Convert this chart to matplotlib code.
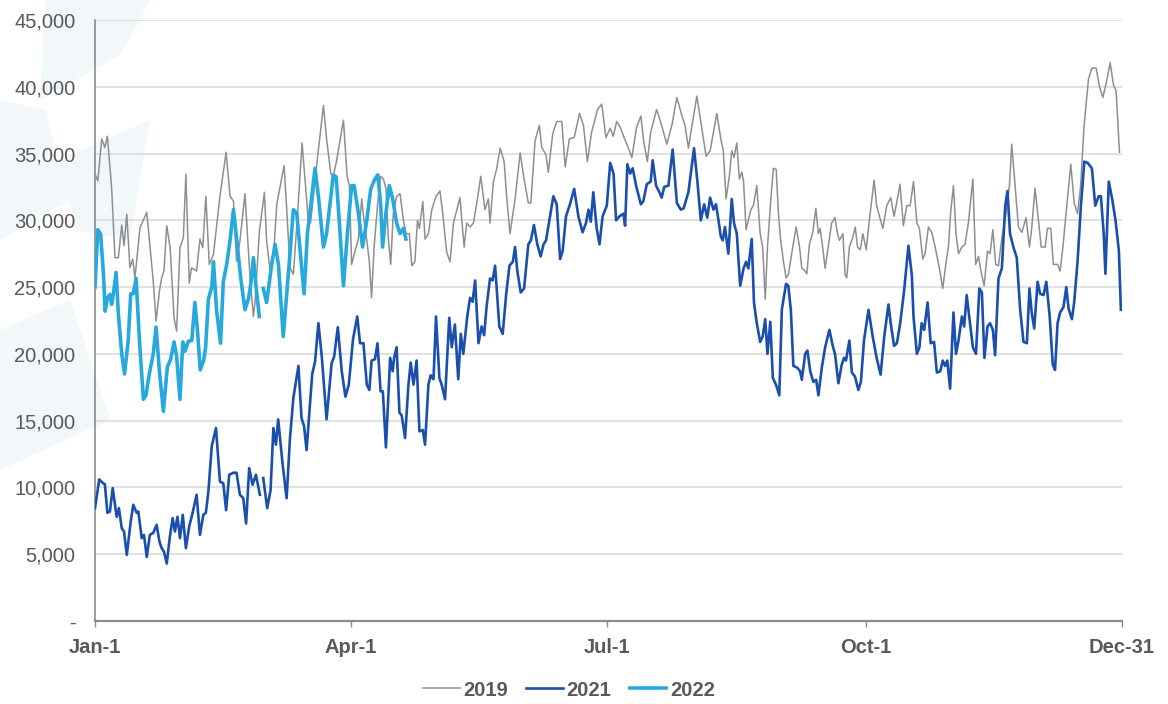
import numpy as np
import matplotlib
matplotlib.use('Agg')
import matplotlib.pyplot as plt
from matplotlib.patches import Polygon
from matplotlib.ticker import FuncFormatter

plt.rcParams['font.family'] = ['Liberation Sans', 'DejaVu Sans']

# x = day of year (0 = Jan-1, 365 = Dec-31), values in thousands
days_2019 = [0.0, 1.0, 2.4, 3.5, 4.4, 5.9, 7.1, 8.3, 9.5, 10.3, 11.3, 12.4, 13.4, 14.2, 16.0, 18.4,
             20.7, 21.7, 22.9, 23.7, 24.5, 25.5, 26.7, 28.1, 29.0, 30.2, 31.4, 32.3, 33.5, 34.3, 36.1,
             37.3, 38.3, 39.4, 40.6, 42.1, 44.4, 46.6, 48.0, 49.2, 50.3, 51.5, 53.3, 55.1, 56.3, 56.9,
             58.4, 60.2, 61.0, 62.4, 63.4, 64.6, 67.2, 68.1, 69.3, 70.5, 71.9, 73.6, 75.8, 76.6, 79.4,
             81.2, 82.3, 83.8, 84.7, 85.9, 88.3, 89.6, 90.4, 91.2, 92.4, 93.6, 94.8, 95.6, 96.6, 97.5,
             98.3, 99.2, 100.4, 101.5, 102.5, 103.4, 104.3, 105.1, 106.0, 107.2, 108.4, 109.6, 110.6,
             111.7, 112.6, 113.7, 114.6, 115.3, 116.5, 117.3, 118.5, 119.7, 121.2, 122.6, 123.6, 125.0,
             126.2, 127.4, 128.6, 129.7, 131.2, 132.1, 133.3, 134.5, 135.7, 137.1, 138.6, 139.8, 140.4,
             141.6, 142.8, 144.0, 145.4, 146.3, 147.5, 149.3, 151.1, 152.5, 154.0, 154.9, 156.4, 157.9,
             158.8, 160.3, 161.1, 162.7, 164.1, 165.9, 167.1, 168.6, 170.3, 172.2, 173.6, 175.0, 176.5,
             178.6, 180.1, 181.6, 183.1, 184.2, 185.4, 186.6, 188.4, 189.6, 190.8, 192.5, 194.0, 195.1,
             196.3, 197.5, 199.6, 201.4, 203.2, 205.0, 206.8, 208.5, 209.7, 210.9, 212.1, 213.9, 215.3,
             217.2, 218.6, 221.0, 222.5, 223.3, 224.3, 225.5, 226.3, 227.1, 228.1, 229.0, 229.9, 230.5,
             231.4, 232.2, 233.1, 234.0, 235.2, 236.4, 237.3, 238.2, 239.0, 240.2, 241.1, 242.1, 242.9,
             243.7, 244.7, 245.6, 246.4, 247.6, 249.2, 250.4, 251.2, 252.0, 253.0, 253.9, 255.1, 256.2,
             257.1, 257.7, 258.3, 259.5, 260.7, 261.8, 263.0, 263.9, 264.6, 265.8, 266.6, 267.2, 268.1,
             269.3, 270.2, 271.0, 272.0, 272.9, 274.1, 275.2, 276.1, 276.9, 277.8, 278.8, 280.0, 281.4,
             282.8, 284.0, 284.9, 286.1, 287.3, 288.5, 289.7, 290.9, 292.1, 293.0, 294.2, 295.0, 296.2,
             297.4, 298.6, 300.1, 301.3, 302.5, 303.3, 304.1, 305.1, 306.0, 306.9, 308.1, 309.2, 310.4,
             312.0, 313.0, 314.0, 314.8, 316.0, 317.2, 318.1, 319.1, 320.1, 321.1, 322.3, 323.8, 325.0,
             325.8, 327.0, 328.2, 329.4, 330.9, 332.1, 332.9, 334.1, 335.3, 336.3, 337.7, 338.5, 339.7,
             340.6, 342.1, 343.0, 344.0, 345.1, 346.8, 348.0, 349.2, 350.3, 351.5, 353.1, 354.3, 355.8,
             357.0, 358.2, 359.4, 360.8, 362.0, 362.9, 364.1]
vals_2019 = [33.45, 32.95, 36.1, 35.45, 36.3, 32.45, 27.2, 27.2, 29.65, 28.1, 30.45, 26.45, 27.1, 25.7,
             29.45, 30.6, 25.45, 22.45, 24.7, 25.7, 26.2, 29.6, 27.95, 22.7, 21.7, 27.95, 28.7, 33.45,
             25.3, 26.45, 26.2, 28.6, 27.95, 31.8, 26.7, 27.45, 31.8, 35.1, 31.8, 31.45, 26.95, 28.45,
             32.0, 25.7, 22.8, 23.95, 29.1, 32.1, 28.45, 25.95, 27.2, 31.2, 34.1, 30.95, 26.45, 25.95,
             30.2, 35.8, 30.0, 29.8, 35.3, 38.6, 36.1, 33.5, 33.3, 34.5, 37.5, 33.3, 32.6, 26.7, 27.7,
             28.6, 31.6, 30.0, 28.5, 26.9, 24.2, 28.0, 31.1, 33.3, 33.1, 32.4, 28.5, 26.7, 30.5, 31.8,
             32.0, 30.0, 29.0, 29.0, 26.6, 26.9, 30.0, 29.4, 31.4, 28.6, 29.0, 30.8, 31.8, 32.2, 30.5,
             27.6, 26.9, 29.8, 30.8, 31.7, 28.0, 29.8, 29.5, 29.8, 31.3, 33.3, 30.8, 31.6, 29.8, 32.9,
             33.9, 35.4, 34.4, 31.8, 29.0, 31.6, 35.05, 33.1, 31.3, 31.3, 35.95, 37.1, 35.45, 34.9,
             33.6, 36.5, 37.4, 37.4, 34.0, 36.1, 36.2, 38.0, 37.1, 34.4, 36.6, 38.3, 38.7, 36.2, 36.9,
             36.3, 37.4, 37.0, 36.0, 35.4, 34.7, 37.0, 37.8, 35.8, 34.4, 36.6, 38.3, 37.1, 35.7, 37.1,
             39.2, 37.9, 37.1, 35.4, 37.0, 39.3, 37.4, 34.8, 35.2, 38.0, 36.0, 35.2, 31.6, 33.4, 35.2,
             34.7, 35.8, 33.1, 33.6, 32.9, 29.3, 30.0, 30.8, 31.1, 32.6, 29.0, 28.0, 24.1, 28.0, 31.6,
             33.9, 33.8, 30.5, 28.5, 26.9, 25.7, 25.9, 27.5, 29.5, 28.0, 26.4, 26.3, 26.0, 28.2, 29.1,
             30.9, 29.0, 29.4, 28.5, 26.4, 28.2, 29.8, 30.2, 29.0, 28.5, 29.0, 25.9, 25.7, 28.0, 28.7,
             29.5, 28.0, 27.8, 29.0, 27.8, 30.0, 31.6, 33.0, 31.1, 30.3, 29.4, 31.1, 31.7, 30.3, 31.3,
             32.7, 29.6, 31.1, 31.1, 32.9, 29.8, 29.4, 27.1, 27.5, 29.5, 29.1, 28.0, 26.4, 24.9, 26.9,
             28.0, 30.6, 32.6, 29.0, 27.5, 28.0, 28.2, 29.8, 33.1, 26.7, 27.3, 26.3, 25.1, 27.7, 27.5,
             29.3, 26.7, 26.6, 28.7, 30.5, 32.6, 35.7, 32.6, 29.5, 29.1, 30.2, 28.0, 29.4, 32.4, 30.0,
             28.0, 28.0, 29.4, 29.4, 26.7, 26.7, 26.2, 28.0, 30.5, 34.2, 31.3, 30.5, 32.6, 37.0, 40.6,
             41.4, 41.4, 40.0, 39.2, 40.3, 41.8, 40.1, 39.7, 35.1]

days_2021 = [0.0, 1.5, 3.0, 3.5, 4.4, 5.3, 6.3, 7.1, 7.7, 8.5, 9.5, 10.3, 11.3, 12.7, 13.6, 14.8, 15.4,
             16.6, 17.4, 18.4, 19.5, 20.7, 21.9, 22.9, 23.7, 24.5, 25.5, 26.6, 27.6, 28.4, 29.3, 30.2,
             31.2, 32.3, 33.5, 34.7, 36.1, 37.3, 38.5, 39.4, 40.3, 41.5, 43.0, 44.4, 45.6, 46.6, 47.7,
             49.2, 50.3, 51.5, 52.7, 53.7, 54.8, 56.0, 57.2, 58.6, 59.2, 59.8, 61.2, 62.4, 63.4, 64.3,
             65.1, 66.7, 68.1, 69.3, 70.5, 72.3, 73.4, 74.3, 75.2, 77.2, 78.2, 79.4, 80.6, 82.3, 84.1,
             85.0, 86.3, 87.7, 89.0, 90.2, 91.7, 93.2, 94.2, 95.4, 96.6, 97.5, 98.3, 99.5, 100.4, 101.5,
             102.3, 103.4, 104.9, 105.8, 106.3, 107.2, 108.2, 109.0, 110.2, 111.4, 112.2, 113.2, 114.3,
             115.3, 116.5, 117.3, 118.5, 119.3, 120.3, 121.2, 122.4, 123.2, 124.4, 125.9, 126.8, 127.9,
             129.1, 130.0, 130.9, 132.3, 133.3, 134.2, 135.1, 136.3, 137.4, 138.3, 139.2, 140.4, 141.3,
             142.2, 143.7, 144.9, 146.1, 147.3, 148.5, 149.3, 150.1, 151.3, 152.5, 154.0, 154.9, 156.0,
             157.2, 158.4, 159.4, 160.3, 161.5, 162.9, 164.1, 165.3, 166.2, 167.4, 168.8, 170.3, 171.8,
             173.3, 174.5, 175.4, 176.2, 177.1, 178.3, 179.3, 180.4, 181.9, 183.1, 184.3, 185.2, 186.4,
             187.8, 188.4, 189.2, 190.2, 191.1, 192.3, 194.0, 194.9, 196.1, 197.5, 198.2, 199.4, 200.6,
             201.4, 202.3, 203.8, 205.3, 206.8, 208.2, 209.2, 210.9, 212.9, 214.1, 215.3, 216.5, 217.6,
             218.6, 219.8, 220.7, 221.6, 222.4, 223.1, 223.9, 225.1, 226.3, 227.1, 228.1, 229.3, 230.5,
             231.4, 232.2, 233.4, 234.2, 235.2, 236.4, 237.3, 238.2, 239.0, 240.0, 240.9, 242.1, 243.2,
             244.1, 245.6, 246.4, 247.3, 248.2, 249.6, 250.6, 251.2, 252.4, 253.2, 254.2, 255.3, 256.3,
             257.1, 258.3, 259.5, 261.0, 262.2, 263.0, 264.2, 265.4, 266.2, 266.9, 268.1, 269.0, 270.1,
             271.3, 272.2, 273.3, 274.9, 276.4, 277.8, 279.2, 280.5, 282.0, 282.8, 284.0, 285.0, 286.1,
             287.5, 289.1, 290.3, 290.9, 292.1, 293.0, 293.8, 294.7, 295.9, 297.0, 298.2, 299.2, 300.4,
             301.3, 302.1, 302.9, 303.9, 305.1, 306.0, 306.9, 308.1, 308.9, 309.8, 311.0, 312.0, 313.1,
             314.3, 315.2, 316.1, 317.2, 318.1, 319.1, 319.9, 321.1, 322.3, 323.5, 324.3, 325.2, 326.4,
             327.6, 328.8, 330.0, 331.2, 332.1, 332.9, 333.8, 335.0, 335.9, 337.1, 338.1, 339.3, 340.4,
             341.2, 342.1, 343.0, 344.2, 345.2, 346.0, 347.2, 348.0, 349.2, 350.4, 351.6, 352.8, 354.3,
             355.5, 356.7, 357.5, 358.5, 359.1, 360.3, 361.5, 362.7, 363.9, 364.6]
vals_2021 = [8.45, 10.6, 10.3, 10.25, 8.1, 8.2, 9.95, 8.7, 7.8, 8.45, 6.95, 6.7, 4.95, 7.45, 8.7, 8.1,
             8.2, 6.2, 6.45, 4.8, 6.45, 6.6, 7.2, 5.95, 5.45, 5.2, 4.3, 6.3, 7.7, 6.7, 7.8, 6.2, 7.95,
             5.45, 7.1, 8.1, 9.45, 6.45, 7.95, 8.1, 9.7, 13.1, 14.45, 10.45, 10.3, 8.3, 10.95, 11.1,
             11.1, 9.45, 9.2, 7.3, 11.45, 10.2, 10.95, 9.45, np.nan, 10.7, 8.45, 9.8, 14.45, 13.2, 15.1,
             11.7, 9.2, 13.7, 16.7, 19.1, 15.2, 14.6, 12.8, 18.5, 19.4, 22.3, 19.8, 15.1, 19.3, 19.8,
             22.0, 18.7, 16.8, 17.7, 21.1, 22.8, 20.8, 20.8, 17.7, 17.3, 19.5, 19.6, 20.8, 17.2, 17.2,
             13.0, 19.7, 18.7, 19.7, 20.5, 15.6, 15.4, 13.7, 17.7, 19.35, 17.7, 19.5, 14.2, 14.3, 13.2,
             17.7, 18.4, 18.1, 22.8, 18.2, 17.7, 16.6, 22.7, 20.5, 22.2, 18.1, 21.5, 20.0, 22.8, 24.2,
             23.9, 25.5, 20.8, 22.05, 21.4, 23.6, 25.65, 25.5, 26.6, 22.05, 21.5, 24.4, 26.6, 26.9,
             28.0, 26.2, 24.6, 24.9, 28.2, 28.5, 29.65, 28.2, 27.3, 28.2, 28.5, 30.0, 31.8, 31.2, 27.1,
             27.7, 30.3, 31.2, 32.35, 30.3, 29.1, 29.8, 30.8, 29.9, 32.1, 29.4, 28.2, 30.3, 31.1, 34.3,
             33.5, 30.0, 30.3, 30.5, 29.6, 34.2, 33.5, 33.9, 32.6, 31.2, 31.45, 32.7, 32.9, 34.5, 32.6,
             32.1, 31.7, 32.5, 32.6, 35.3, 31.3, 30.8, 30.9, 32.1, 35.4, 32.9, 30.0, 31.2, 30.2, 31.7,
             30.8, 31.2, 30.0, 28.8, 28.5, 29.5, 27.5, 31.6, 29.8, 29.0, 25.1, 26.4, 26.9, 26.4, 28.6,
             23.85, 22.3, 20.9, 21.3, 22.6, 20.0, 22.4, 18.2, 17.65, 16.9, 23.3, 25.25, 25.1, 23.3,
             19.1, 18.96, 18.7, 18.06, 20.0, 20.25, 18.7, 17.9, 18.06, 16.9, 18.96, 20.5, 21.8, 20.6,
             20.0, 17.8, 19.2, 19.7, 19.5, 21.0, 18.6, 18.3, 17.3, 17.9, 21.0, 23.3, 21.3, 19.7, 18.45,
             21.3, 23.7, 22.3, 20.6, 20.8, 22.2, 24.6, 28.1, 25.9, 22.8, 20.0, 20.5, 22.3, 21.8, 23.85,
             20.8, 20.9, 18.6, 18.7, 19.5, 19.1, 19.5, 17.4, 23.1, 20.0, 21.0, 22.8, 22.05, 24.4, 22.3,
             20.5, 20.0, 24.9, 24.6, 19.7, 22.05, 22.3, 21.8, 19.9, 25.65, 26.4, 31.1, 32.2, 29.0,
             28.0, 27.2, 23.3, 20.9, 20.8, 24.9, 23.1, 21.9, 25.4, 24.5, 24.4, 25.4, 22.8, 19.2, 18.8,
             22.3, 23.1, 23.5, 25.0, 23.4, 22.6, 23.85, 26.9, 31.1, 34.4, 34.3, 33.9, 31.1, 31.8, 31.8,
             29.0, 26.0, 32.9, 31.6, 30.0, 27.7, 23.3]

days_2022 = [0.0, 1.0, 2.0, 3.0, 3.6, 4.4, 5.3, 5.9, 6.5, 7.5, 8.3, 9.5, 10.5, 11.8, 12.7, 13.6, 14.6,
             15.8, 17.2, 18.1, 19.3, 20.7, 21.7, 22.9, 24.3, 25.7, 26.9, 28.1, 29.0, 30.2, 31.2, 32.0,
             33.2, 34.4, 35.5, 36.4, 37.4, 38.6, 39.3, 40.3, 41.5, 42.1, 43.2, 44.6, 45.6, 46.8, 48.0,
             49.2, 50.4, 51.8, 53.3, 54.5, 55.3, 56.3, 57.2, 58.4, 59.1, 59.8, 61.0, 62.8, 64.0, 65.2,
             66.9, 68.1, 69.3, 70.5, 71.7, 73.0, 74.3, 75.5, 78.2, 79.4, 81.2, 82.3, 84.7, 85.7, 86.8,
             88.3, 89.7, 91.2, 92.1, 93.6, 95.1, 96.6, 98.0, 99.5, 100.5, 101.5, 102.2, 103.4, 104.6,
             105.8, 107.2, 108.4, 109.6, 110.5]
vals_2022 = [25.0, 29.3, 28.95, 26.0, 23.2, 24.2, 24.45, 23.7, 24.45, 26.1, 23.0, 20.0, 18.5, 21.0,
             24.5, 24.5, 25.65, 21.0, 16.6, 16.9, 18.5, 20.0, 22.0, 18.7, 15.7, 19.0, 19.6, 20.9, 19.8,
             16.6, 20.9, 20.2, 20.95, 21.0, 23.85, 21.8, 18.8, 19.5, 20.45, 24.1, 25.0, 26.9, 23.3,
             20.8, 25.4, 26.7, 28.5, 30.8, 28.5, 25.65, 23.3, 24.1, 25.1, 27.2, 25.1, 22.8, np.nan,
             24.9, 23.85, 26.7, 28.2, 26.7, 21.3, 24.4, 27.5, 30.8, 30.55, 27.5, 24.5, 29.0, 33.9,
             31.8, 28.0, 29.0, 33.4, 33.25, 30.0, 25.1, 29.0, 32.6, 32.6, 30.55, 28.0, 30.0, 32.35,
             33.1, 33.4, 31.3, 28.0, 30.55, 32.6, 31.6, 29.8, 29.0, 29.4, 28.6]

tick_days = [0, 91, 182, 274, 365]
tick_labels = ['Jan-1', 'Apr-1', 'Jul-1', 'Oct-1', 'Dec-31']

W, H = 1168, 704
fig = plt.figure(figsize=(W / 100, H / 100), dpi=100)

# faint watermark shapes in the upper-left background
for pts in [[(45, 0), (150, 0), (120, 55), (40, 100)],
            [(0, 100), (45, 110), (70, 200), (0, 240)],
            [(60, 160), (150, 120), (130, 240), (75, 230)],
            [(0, 330), (70, 300), (110, 420), (0, 470)]]:
    fig.patches.append(Polygon([(x / W, 1 - y / H) for x, y in pts], closed=True,
                               transform=fig.transFigure, facecolor='#f2f7f9',
                               edgecolor='none', zorder=-10))

ax = fig.add_axes([95 / W, 1 - 621 / H, (1122 - 95) / W, (621 - 20) / H])
ax.patch.set_alpha(0)

ax.plot(days_2019, np.array(vals_2019) * 1000, color='#8f8f8f', lw=1.1, label='2019', zorder=3)
ax.plot(days_2021, np.array(vals_2021) * 1000, color='#1a4fae', lw=1.9, label='2021', zorder=4)
ax.plot(days_2022, np.array(vals_2022) * 1000, color='#27a9dd', lw=2.6, label='2022', zorder=5)

ax.set_xlim(0, 365)
ax.set_ylim(0, 45000)
ax.set_yticks(range(0, 45001, 5000))
ax.yaxis.set_major_formatter(FuncFormatter(lambda v, p: '-' if v == 0 else f'{v:,.0f}'))
ax.set_xticks(tick_days)
ax.set_xticklabels(tick_labels, fontweight='bold')

ax.yaxis.grid(True, color='#d9d9d9', lw=1.1)
ax.set_axisbelow(True)
for s in ['top', 'right']:
    ax.spines[s].set_visible(False)
ax.spines['left'].set_color('#8c8c8c')
ax.spines['left'].set_linewidth(1.2)
ax.spines['bottom'].set_color('#8c8c8c')
ax.spines['bottom'].set_linewidth(1.6)

ax.tick_params(axis='y', length=0, pad=14, labelsize=14.5, labelcolor='#595959')
ax.tick_params(axis='x', length=4, width=1, color='#8c8c8c', pad=8,
               labelsize=14.5, labelcolor='#595959')

fig.legend(loc='center', bbox_to_anchor=(569 / W, 1 - 690 / H), ncol=3, frameon=False,
           handlelength=1.8, handletextpad=0.2, columnspacing=0.9,
           prop={'size': 14.5, 'weight': 'bold'}, labelcolor='#595959')

fig.savefig('out.png', dpi=100)
